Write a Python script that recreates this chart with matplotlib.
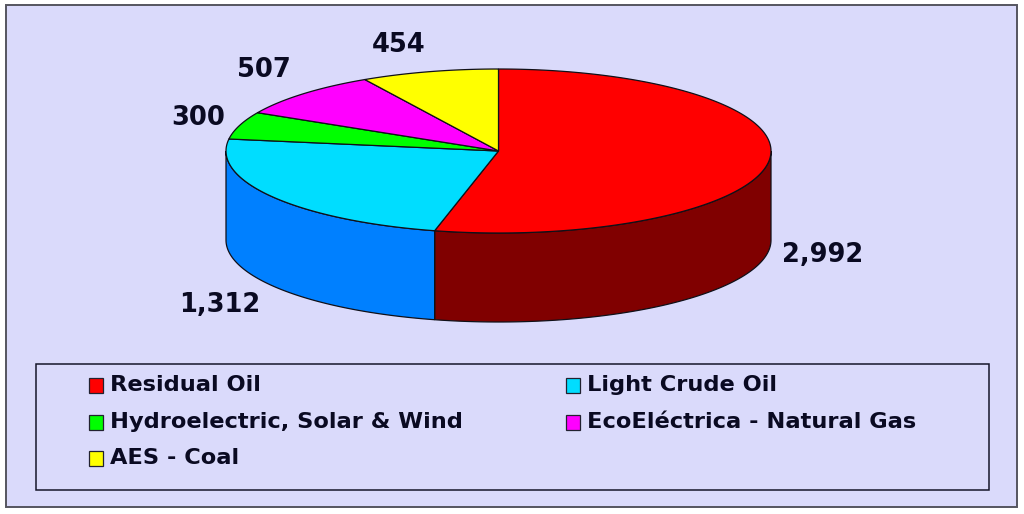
import numpy as np
import matplotlib
matplotlib.use("Agg")
import matplotlib.pyplot as plt
from matplotlib.patches import Rectangle, Polygon

categories = ["Residual Oil", "Light Crude Oil", "Hydroelectric, Solar & Wind",
              "EcoEléctrica - Natural Gas", "AES - Coal"]
values = [2992, 1312, 300, 507, 454]
value_labels = ["2,992", "1,312", "300", "507", "454"]
top_colors = ["#FF0000", "#00DDFF", "#00FF00", "#FF00FF", "#FFFF00"]
side_colors = ["#800000", "#0080FF", "#008000", "#800080", "#808000"]

W, H = 1024, 514
CX, CY, RX, RY, DEPTH = 498.5, 151, 272.5, 82, 89
INK = "#0A0A22"
BG = "#DADAFB"
FONT = "DejaVu Sans"

fig = plt.figure(figsize=(W / 100, H / 100), dpi=100, facecolor="white")
ax = fig.add_axes([0, 0, 1, 1])
ax.set_xlim(0, W)
ax.set_ylim(H, 0)
ax.axis("off")

ax.add_patch(Rectangle((6, 5), 1011, 501.5, fc=BG, ec="#55555F", lw=1.4, zorder=1))

fractions = np.array(values) / sum(values)
edges = np.concatenate([[0], np.cumsum(fractions)]) * 2 * np.pi


def px(t):
    return CX + RX * np.sin(t)


def py(t):
    return CY - RY * np.cos(t)


# side walls: only the front half of the rim (pi/2 .. 3pi/2 clockwise from top)
for i in range(len(values)):
    a, b = max(edges[i], np.pi / 2), min(edges[i + 1], 3 * np.pi / 2)
    if a >= b:
        continue
    t = np.linspace(a, b, 200)
    xs = np.r_[px(t), px(t)[::-1]]
    ys = np.r_[py(t), py(t)[::-1] + DEPTH]
    ax.add_patch(Polygon(np.c_[xs, ys], closed=True, fc=side_colors[i], ec="#101018", lw=0.9, zorder=2))

# top faces
for i in range(len(values)):
    t = np.linspace(edges[i], edges[i + 1], 200)
    xs = np.r_[CX, px(t)]
    ys = np.r_[CY, py(t)]
    ax.add_patch(Polygon(np.c_[xs, ys], closed=True, fc=top_colors[i], ec="#101018", lw=0.9, zorder=3))

label_pos = [(823, 255), (220, 305), (198, 118), (264, 70), (399, 45)]
for text, (x, y) in zip(value_labels, label_pos):
    ax.text(x, y, text, ha="center", va="center", family=FONT, weight="bold",
            fontsize=18.5, color=INK, zorder=5)

ax.add_patch(Rectangle((36, 364), 953, 126, fc=BG, ec="#15152A", lw=1.1, zorder=4))
legend_pos = [(89, 385), (566, 385), (89, 422), (566, 422), (89, 458)]
for name, color, (x, y) in zip(categories, top_colors, legend_pos):
    ax.add_patch(Rectangle((x, y - 7.5), 14, 15, fc=color, ec="#222230", lw=0.9, zorder=5))
    ax.text(x + 21, y, name, ha="left", va="center", family=FONT, weight="bold",
            fontsize=16.2, color=INK, zorder=5)

fig.savefig("out.png", dpi=100, facecolor="white")
